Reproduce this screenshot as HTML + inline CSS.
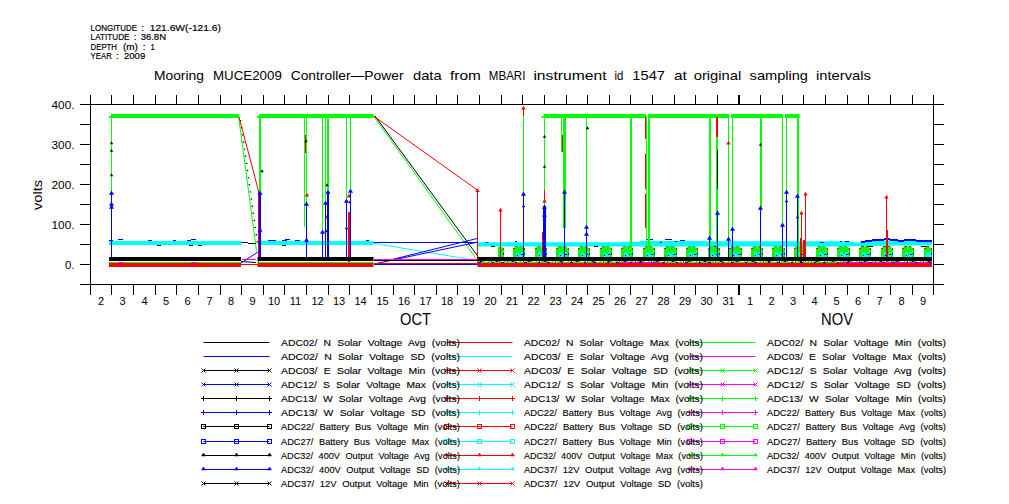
<!DOCTYPE html>
<html><head><meta charset="utf-8"><style>html,body{margin:0;padding:0;background:#fff;overflow:hidden}svg{display:block}text{font-family:"Liberation Sans",sans-serif}.b{stroke:#000;stroke-width:0.12px}.h{stroke:#000;stroke-width:0.2px}</style></head>
<body><svg width="1009" height="504" viewBox="0 0 1009 504" font-family="Liberation Sans, sans-serif" fill="#000"><path d="M498 257V247H502L504 249V257Z" fill="#0f0"/>
<rect x="500" y="252" width="2" height="5" fill="#0ff"/>
<rect x="503" y="248" width="1" height="2" fill="#f00"/>
<rect x="503" y="253" width="1" height="2" fill="#00f"/>
<path d="M513 257V249L515 246.5H522L525 249V257Z" fill="#0f0"/>
<rect x="513" y="248" width="2" height="1" fill="#f00"/>
<rect x="515" y="246" width="3" height="1" fill="#f00"/>
<rect x="520" y="246" width="2" height="1" fill="#f00"/>
<rect x="516" y="252" width="7" height="5" fill="#0ff"/>
<rect x="519" y="252" width="2" height="2" fill="#0f0"/>
<rect x="517" y="255" width="1" height="1" fill="#000"/>
<rect x="521" y="254" width="2" height="1" fill="#000"/>
<rect x="524" y="248" width="1" height="2" fill="#f00"/>
<rect x="524" y="253" width="1" height="2" fill="#00f"/>
<path d="M535 257V249L537 246.5H544L547 249V257Z" fill="#0f0"/>
<rect x="535" y="248" width="2" height="1" fill="#f00"/>
<rect x="537" y="246" width="3" height="1" fill="#f00"/>
<rect x="542" y="246" width="2" height="1" fill="#f00"/>
<rect x="538" y="252" width="7" height="5" fill="#0ff"/>
<rect x="541" y="252" width="2" height="2" fill="#0f0"/>
<rect x="539" y="255" width="1" height="1" fill="#000"/>
<rect x="543" y="254" width="2" height="1" fill="#000"/>
<rect x="546" y="248" width="1" height="2" fill="#f00"/>
<rect x="546" y="253" width="1" height="2" fill="#00f"/>
<path d="M556 257V249L558 246.5H566L569 249V257Z" fill="#0f0"/>
<rect x="556" y="248" width="2" height="1" fill="#f00"/>
<rect x="558" y="246" width="3" height="1" fill="#f00"/>
<rect x="563" y="246" width="3" height="1" fill="#f00"/>
<rect x="559" y="252" width="8" height="5" fill="#0ff"/>
<rect x="562" y="252" width="2" height="2" fill="#0f0"/>
<rect x="560" y="255" width="1" height="1" fill="#000"/>
<rect x="565" y="254" width="2" height="1" fill="#000"/>
<rect x="568" y="248" width="1" height="2" fill="#f00"/>
<rect x="568" y="253" width="1" height="2" fill="#00f"/>
<path d="M578 257V249L580 246.5H587L590 249V257Z" fill="#0f0"/>
<rect x="578" y="248" width="2" height="1" fill="#f00"/>
<rect x="580" y="246" width="3" height="1" fill="#f00"/>
<rect x="585" y="246" width="2" height="1" fill="#f00"/>
<rect x="581" y="252" width="7" height="5" fill="#0ff"/>
<rect x="584" y="252" width="2" height="2" fill="#0f0"/>
<rect x="582" y="255" width="1" height="1" fill="#000"/>
<rect x="586" y="254" width="2" height="1" fill="#000"/>
<rect x="589" y="248" width="1" height="2" fill="#f00"/>
<rect x="589" y="253" width="1" height="2" fill="#00f"/>
<path d="M600 257V249L602 246.5H609L612 249V257Z" fill="#0f0"/>
<rect x="600" y="248" width="2" height="1" fill="#f00"/>
<rect x="602" y="246" width="3" height="1" fill="#f00"/>
<rect x="607" y="246" width="2" height="1" fill="#f00"/>
<rect x="603" y="252" width="7" height="5" fill="#0ff"/>
<rect x="606" y="252" width="2" height="2" fill="#0f0"/>
<rect x="604" y="255" width="1" height="1" fill="#000"/>
<rect x="608" y="254" width="2" height="1" fill="#000"/>
<rect x="611" y="248" width="1" height="2" fill="#f00"/>
<rect x="611" y="253" width="1" height="2" fill="#00f"/>
<path d="M621 257V249L623 246.5H630L633 249V257Z" fill="#0f0"/>
<rect x="621" y="248" width="2" height="1" fill="#f00"/>
<rect x="623" y="246" width="3" height="1" fill="#f00"/>
<rect x="628" y="246" width="2" height="1" fill="#f00"/>
<rect x="624" y="252" width="7" height="5" fill="#0ff"/>
<rect x="627" y="252" width="2" height="2" fill="#0f0"/>
<rect x="625" y="255" width="1" height="1" fill="#000"/>
<rect x="629" y="254" width="2" height="1" fill="#000"/>
<rect x="632" y="248" width="1" height="2" fill="#f00"/>
<rect x="632" y="253" width="1" height="2" fill="#00f"/>
<path d="M643 257V249L645 246.5H652L655 249V257Z" fill="#0f0"/>
<rect x="643" y="248" width="2" height="1" fill="#f00"/>
<rect x="645" y="246" width="3" height="1" fill="#f00"/>
<rect x="650" y="246" width="2" height="1" fill="#f00"/>
<rect x="646" y="252" width="7" height="5" fill="#0ff"/>
<rect x="649" y="252" width="2" height="2" fill="#0f0"/>
<rect x="647" y="255" width="1" height="1" fill="#000"/>
<rect x="651" y="254" width="2" height="1" fill="#000"/>
<rect x="654" y="248" width="1" height="2" fill="#f00"/>
<rect x="654" y="253" width="1" height="2" fill="#00f"/>
<path d="M664 257V249L666 246.5H674L677 249V257Z" fill="#0f0"/>
<rect x="664" y="248" width="2" height="1" fill="#f00"/>
<rect x="666" y="246" width="3" height="1" fill="#f00"/>
<rect x="671" y="246" width="3" height="1" fill="#f00"/>
<rect x="667" y="252" width="8" height="5" fill="#0ff"/>
<rect x="670" y="252" width="2" height="2" fill="#0f0"/>
<rect x="668" y="255" width="1" height="1" fill="#000"/>
<rect x="673" y="254" width="2" height="1" fill="#000"/>
<rect x="676" y="248" width="1" height="2" fill="#f00"/>
<rect x="676" y="253" width="1" height="2" fill="#00f"/>
<path d="M686 257V249L688 246.5H695L698 249V257Z" fill="#0f0"/>
<rect x="686" y="248" width="2" height="1" fill="#f00"/>
<rect x="688" y="246" width="3" height="1" fill="#f00"/>
<rect x="693" y="246" width="2" height="1" fill="#f00"/>
<rect x="689" y="252" width="7" height="5" fill="#0ff"/>
<rect x="692" y="252" width="2" height="2" fill="#0f0"/>
<rect x="690" y="255" width="1" height="1" fill="#000"/>
<rect x="694" y="254" width="2" height="1" fill="#000"/>
<rect x="697" y="248" width="1" height="2" fill="#f00"/>
<rect x="697" y="253" width="1" height="2" fill="#00f"/>
<path d="M708 257V249L710 246.5H717L720 249V257Z" fill="#0f0"/>
<rect x="708" y="248" width="2" height="1" fill="#f00"/>
<rect x="710" y="246" width="3" height="1" fill="#f00"/>
<rect x="715" y="246" width="2" height="1" fill="#f00"/>
<rect x="711" y="252" width="7" height="5" fill="#0ff"/>
<rect x="714" y="252" width="2" height="2" fill="#0f0"/>
<rect x="712" y="255" width="1" height="1" fill="#000"/>
<rect x="716" y="254" width="2" height="1" fill="#000"/>
<rect x="719" y="248" width="1" height="2" fill="#f00"/>
<rect x="719" y="253" width="1" height="2" fill="#00f"/>
<path d="M729 257V249L731 246.5H739L742 249V257Z" fill="#0f0"/>
<rect x="729" y="248" width="2" height="1" fill="#f00"/>
<rect x="731" y="246" width="3" height="1" fill="#f00"/>
<rect x="736" y="246" width="3" height="1" fill="#f00"/>
<rect x="732" y="252" width="8" height="5" fill="#0ff"/>
<rect x="735" y="252" width="2" height="2" fill="#0f0"/>
<rect x="733" y="255" width="1" height="1" fill="#000"/>
<rect x="738" y="254" width="2" height="1" fill="#000"/>
<rect x="741" y="248" width="1" height="2" fill="#f00"/>
<rect x="741" y="253" width="1" height="2" fill="#00f"/>
<path d="M751 257V249L753 246.5H760L763 249V257Z" fill="#0f0"/>
<rect x="751" y="248" width="2" height="1" fill="#f00"/>
<rect x="753" y="246" width="3" height="1" fill="#f00"/>
<rect x="758" y="246" width="2" height="1" fill="#f00"/>
<rect x="754" y="252" width="7" height="5" fill="#0ff"/>
<rect x="757" y="252" width="2" height="2" fill="#0f0"/>
<rect x="755" y="255" width="1" height="1" fill="#000"/>
<rect x="759" y="254" width="2" height="1" fill="#000"/>
<rect x="762" y="248" width="1" height="2" fill="#f00"/>
<rect x="762" y="253" width="1" height="2" fill="#00f"/>
<path d="M772 257V249L774 246.5H782L785 249V257Z" fill="#0f0"/>
<rect x="772" y="248" width="2" height="1" fill="#f00"/>
<rect x="774" y="246" width="3" height="1" fill="#f00"/>
<rect x="779" y="246" width="3" height="1" fill="#f00"/>
<rect x="775" y="252" width="8" height="5" fill="#0ff"/>
<rect x="778" y="252" width="2" height="2" fill="#0f0"/>
<rect x="776" y="255" width="1" height="1" fill="#000"/>
<rect x="781" y="254" width="2" height="1" fill="#000"/>
<rect x="784" y="248" width="1" height="2" fill="#f00"/>
<rect x="784" y="253" width="1" height="2" fill="#00f"/>
<path d="M794 257V249L796 246.5H803L806 249V257Z" fill="#0f0"/>
<rect x="794" y="248" width="2" height="1" fill="#f00"/>
<rect x="796" y="246" width="3" height="1" fill="#f00"/>
<rect x="801" y="246" width="2" height="1" fill="#f00"/>
<rect x="797" y="252" width="7" height="5" fill="#0ff"/>
<rect x="800" y="252" width="2" height="2" fill="#0f0"/>
<rect x="798" y="255" width="1" height="1" fill="#000"/>
<rect x="802" y="254" width="2" height="1" fill="#000"/>
<rect x="805" y="248" width="1" height="2" fill="#f00"/>
<rect x="805" y="253" width="1" height="2" fill="#00f"/>
<path d="M816 257V249L818 246.5H825L828 249V257Z" fill="#0f0"/>
<rect x="816" y="248" width="2" height="1" fill="#f00"/>
<rect x="818" y="246" width="3" height="1" fill="#f00"/>
<rect x="823" y="246" width="2" height="1" fill="#f00"/>
<rect x="819" y="252" width="7" height="5" fill="#0ff"/>
<rect x="822" y="252" width="2" height="2" fill="#0f0"/>
<rect x="820" y="255" width="1" height="1" fill="#000"/>
<rect x="824" y="254" width="2" height="1" fill="#000"/>
<rect x="827" y="248" width="1" height="2" fill="#f00"/>
<rect x="827" y="253" width="1" height="2" fill="#00f"/>
<path d="M837 257V249L839 246.5H847L850 249V257Z" fill="#0f0"/>
<rect x="837" y="248" width="2" height="1" fill="#f00"/>
<rect x="839" y="246" width="3" height="1" fill="#f00"/>
<rect x="844" y="246" width="3" height="1" fill="#f00"/>
<rect x="840" y="252" width="8" height="5" fill="#0ff"/>
<rect x="843" y="252" width="2" height="2" fill="#0f0"/>
<rect x="841" y="255" width="1" height="1" fill="#000"/>
<rect x="846" y="254" width="2" height="1" fill="#000"/>
<rect x="849" y="248" width="1" height="2" fill="#f00"/>
<rect x="849" y="253" width="1" height="2" fill="#00f"/>
<path d="M859 257V249L861 246.5H868L871 249V257Z" fill="#0f0"/>
<rect x="859" y="248" width="2" height="1" fill="#f00"/>
<rect x="861" y="246" width="3" height="1" fill="#f00"/>
<rect x="866" y="246" width="2" height="1" fill="#f00"/>
<rect x="862" y="252" width="7" height="5" fill="#0ff"/>
<rect x="865" y="252" width="2" height="2" fill="#0f0"/>
<rect x="863" y="255" width="1" height="1" fill="#000"/>
<rect x="867" y="254" width="2" height="1" fill="#000"/>
<rect x="870" y="248" width="1" height="2" fill="#f00"/>
<rect x="870" y="253" width="1" height="2" fill="#00f"/>
<path d="M881 257V249L883 246.5H890L893 249V257Z" fill="#0f0"/>
<rect x="881" y="248" width="2" height="1" fill="#f00"/>
<rect x="883" y="246" width="3" height="1" fill="#f00"/>
<rect x="888" y="246" width="2" height="1" fill="#f00"/>
<rect x="884" y="252" width="7" height="5" fill="#0ff"/>
<rect x="887" y="252" width="2" height="2" fill="#0f0"/>
<rect x="885" y="255" width="1" height="1" fill="#000"/>
<rect x="889" y="254" width="2" height="1" fill="#000"/>
<rect x="892" y="248" width="1" height="2" fill="#f00"/>
<rect x="892" y="253" width="1" height="2" fill="#00f"/>
<path d="M902 257V249L904 246.5H911L914 249V257Z" fill="#0f0"/>
<rect x="902" y="248" width="2" height="1" fill="#f00"/>
<rect x="904" y="246" width="3" height="1" fill="#f00"/>
<rect x="909" y="246" width="2" height="1" fill="#f00"/>
<rect x="905" y="252" width="7" height="5" fill="#0ff"/>
<rect x="908" y="252" width="2" height="2" fill="#0f0"/>
<rect x="906" y="255" width="1" height="1" fill="#000"/>
<rect x="910" y="254" width="2" height="1" fill="#000"/>
<rect x="913" y="248" width="1" height="2" fill="#f00"/>
<rect x="913" y="253" width="1" height="2" fill="#00f"/>
<path d="M924 257V249L926 246.5H929L932 249V257Z" fill="#0f0"/>
<rect x="924" y="248" width="2" height="1" fill="#f00"/>
<rect x="926" y="246" width="3" height="1" fill="#f00"/>
<rect x="931" y="246" width="-2" height="1" fill="#f00"/>
<rect x="926" y="252" width="5" height="5" fill="#0ff"/>
<rect x="931" y="248" width="1" height="2" fill="#f00"/>
<rect x="931" y="253" width="1" height="2" fill="#00f"/>
<rect x="109" y="241" width="132" height="4" fill="#0ff"/>
<rect x="258" y="241" width="115.5" height="4" fill="#0ff"/>
<path d="M477.5 242.3H622V241.7H640V241H700V241.3H850V241.5L855 242.5H860V241.5H870V240.5H932V245.2L900 245.4L850 246.3V246.6H477.5Z" fill="#0ff"/>
<rect x="109" y="240" width="4" height="1" fill="#00f"/>
<rect x="118" y="239" width="5" height="1" fill="#00f"/>
<rect x="148" y="240" width="4" height="1" fill="#00f"/>
<rect x="173" y="240" width="3" height="1" fill="#00f"/>
<rect x="187" y="240" width="4" height="1" fill="#00f"/>
<rect x="191" y="239" width="5" height="1" fill="#00f"/>
<rect x="268" y="240" width="8" height="1" fill="#00f"/>
<rect x="282" y="240" width="5" height="1" fill="#00f"/>
<rect x="285" y="239" width="5" height="1" fill="#00f"/>
<rect x="295" y="240" width="5" height="1" fill="#00f"/>
<rect x="366" y="240" width="3" height="1" fill="#00f"/>
<rect x="486" y="242" width="2" height="1" fill="#00f"/>
<rect x="515" y="241" width="2" height="1" fill="#00f"/>
<rect x="647" y="239" width="6" height="1" fill="#00f"/>
<rect x="660" y="242" width="2" height="1" fill="#00f"/>
<rect x="665" y="239" width="7" height="1" fill="#00f"/>
<rect x="675" y="241" width="2" height="1" fill="#00f"/>
<rect x="680" y="240" width="5" height="1" fill="#00f"/>
<rect x="820" y="242" width="4" height="1" fill="#00f"/>
<rect x="840" y="241" width="2" height="1" fill="#00f"/>
<rect x="845" y="241" width="4" height="1" fill="#00f"/>
<rect x="861" y="241" width="4" height="2" fill="#00f"/>
<rect x="865" y="240" width="7" height="2" fill="#00f"/>
<rect x="872" y="239" width="12" height="2" fill="#00f"/>
<rect x="884" y="238" width="6" height="2" fill="#00f"/>
<rect x="890" y="239" width="8" height="2" fill="#00f"/>
<rect x="904" y="239" width="12" height="2" fill="#00f"/>
<rect x="925" y="240" width="7" height="2" fill="#00f"/>
<rect x="898" y="240" width="6" height="2" fill="#00f"/>
<rect x="916" y="240" width="9" height="2" fill="#00f"/>
<rect x="157" y="245" width="4" height="1" fill="#000"/>
<rect x="189" y="245" width="4" height="1" fill="#000"/>
<rect x="198" y="245" width="4" height="1" fill="#000"/>
<rect x="282" y="245" width="4" height="1" fill="#000"/>
<rect x="491" y="246" width="4" height="1" fill="#000"/>
<rect x="594" y="246" width="4" height="1" fill="#000"/>
<rect x="714" y="246" width="3" height="1" fill="#000"/>
<rect x="868" y="246" width="5" height="1" fill="#000"/>
<rect x="921" y="246" width="5" height="1" fill="#000"/>
<rect x="111" y="114" width="128" height="4" fill="#0f0"/>
<rect x="259" y="114" width="114.5" height="4" fill="#0f0"/>
<rect x="543.5" y="114" width="102.5" height="4" fill="#0f0"/>
<rect x="648" y="114" width="81" height="4" fill="#0f0"/>
<rect x="731" y="114" width="52" height="4" fill="#0f0"/>
<rect x="785" y="114" width="14.7" height="4" fill="#0f0"/>
<rect x="109" y="116" width="2" height="2" fill="#0f0"/>
<rect x="257" y="116" width="2" height="2" fill="#0f0"/>
<rect x="541.5" y="116" width="2.0" height="2" fill="#0f0"/>
<rect x="111" y="116" width="1" height="76" fill="#0f0"/>
<rect x="259" y="116" width="2" height="76" fill="#0f0"/>
<rect x="304" y="116" width="1" height="111" fill="#0f0"/>
<rect x="306" y="116" width="1" height="111" fill="#0f0"/>
<rect x="322" y="116" width="1" height="115" fill="#0f0"/>
<rect x="325" y="116" width="1" height="129" fill="#0f0"/>
<rect x="327" y="116" width="2" height="74" fill="#0f0"/>
<rect x="346" y="116" width="1" height="84" fill="#0f0"/>
<rect x="350" y="116" width="1" height="74" fill="#0f0"/>
<rect x="523" y="116" width="1" height="77" fill="#0f0"/>
<rect x="544" y="116" width="1" height="146" fill="#0f0"/>
<rect x="561" y="116" width="1" height="36" fill="#0f0"/>
<rect x="563" y="116" width="3" height="112" fill="#0f0"/>
<rect x="586" y="116" width="1" height="110" fill="#0f0"/>
<rect x="630" y="116" width="2" height="146" fill="#0f0"/>
<rect x="646" y="116" width="1" height="130" fill="#0f0"/>
<rect x="648" y="116" width="2" height="132" fill="#0f0"/>
<rect x="709" y="116" width="2" height="146" fill="#0f0"/>
<rect x="716" y="116" width="2" height="137" fill="#0f0"/>
<rect x="728" y="116" width="1" height="146" fill="#0f0"/>
<rect x="732" y="116" width="1" height="124" fill="#0f0"/>
<rect x="760" y="116" width="2" height="91" fill="#0f0"/>
<rect x="782" y="116" width="1" height="108" fill="#0f0"/>
<rect x="786" y="116" width="1" height="75" fill="#0f0"/>
<rect x="797" y="116" width="2" height="142" fill="#0f0"/>
<path d="M238.5 116L256.5 251" stroke="#0f0" stroke-width="1" fill="none"/>
<path d="M240.5 120L258 247" stroke="#000" stroke-width="1.5" stroke-dasharray="1.2 6"/>
<path d="M373.5 116L476 258.5" stroke="#0f0" stroke-width="1" fill="none"/>
<path d="M375 116L478 256.5" stroke="#000" stroke-width="1" fill="none"/>
<path d="M239 117L258.5 191" stroke="#f00" stroke-width="1" fill="none"/>
<path d="M373.5 116L478 190.5" stroke="#f00" stroke-width="1" fill="none"/>
<rect x="258" y="191" width="1" height="74" fill="#f00"/>
<rect x="348" y="212" width="2" height="53" fill="#f00"/>
<rect x="305" y="135" width="1" height="18" fill="#f00"/>
<rect x="562" y="135" width="1" height="17" fill="#f00"/>
<rect x="645" y="117" width="1" height="22" fill="#f00"/>
<rect x="645" y="154" width="1" height="35" fill="#f00"/>
<rect x="645" y="194" width="1" height="34" fill="#f00"/>
<rect x="716" y="117" width="2" height="20" fill="#f00"/>
<rect x="477" y="190.5" width="1" height="74.5" fill="#f00"/>
<rect x="500" y="210" width="1" height="55" fill="#f00"/>
<rect x="523" y="108" width="1" height="8" fill="#f00"/>
<rect x="542" y="232" width="1" height="33" fill="#f00"/>
<rect x="544" y="190" width="1" height="10" fill="#f00"/>
<rect x="801" y="213" width="1" height="52" fill="#f00"/>
<rect x="805" y="194" width="1" height="71" fill="#f00"/>
<rect x="800" y="238" width="2" height="20" fill="#f00"/>
<rect x="803" y="240" width="2" height="18" fill="#f00"/>
<rect x="887" y="230" width="1" height="35" fill="#f00"/>
<rect x="886" y="197" width="1" height="68" fill="#f00"/>
<path d="M498.3 211.54L500.5 207.8L502.7 211.54Z" fill="#f00"/>
<path d="M521.3 109.54L523.5 105.8L525.7 109.54Z" fill="#f00"/>
<path d="M475.3 192.04L477.5 188.3L479.7 192.04Z" fill="#f00"/>
<path d="M803.3 195.54L805.5 191.8L807.7 195.54Z" fill="#f00"/>
<path d="M799.3 214.54L801.5 210.8L803.7 214.54Z" fill="#f00"/>
<path d="M884.3 198.54L886.5 194.8L888.7 198.54Z" fill="#f00"/>
<path d="M542.3 202.54L544.5 198.8L546.7 202.54Z" fill="#f00"/>
<path d="M304.8 196.54L307 192.8L309.2 196.54Z" fill="#f00"/>
<path d="M324.8 218.54L327 214.8L329.2 218.54Z" fill="#f00"/>
<path d="M346.8 197.54L349 193.8L351.2 197.54Z" fill="#f00"/>
<path d="M726.3 144.54L728.5 140.8L730.7 144.54Z" fill="#f00"/>
<rect x="717" y="150" width="1" height="39" fill="#000"/>
<path d="M109.8 144.19L111.5 141.3L113.2 144.19Z" fill="#000"/>
<path d="M109.8 151.69L111.5 148.8L113.2 151.69Z" fill="#000"/>
<path d="M109.8 176.19L111.5 173.3L113.2 176.19Z" fill="#000"/>
<path d="M260.3 172.19L262 169.3L263.7 172.19Z" fill="#000"/>
<path d="M304.3 142.19L306 139.3L307.7 142.19Z" fill="#000"/>
<path d="M325.3 186.19L327 183.3L328.7 186.19Z" fill="#000"/>
<path d="M324.3 232.19L326 229.3L327.7 232.19Z" fill="#000"/>
<path d="M344.8 229.19L346.5 226.3L348.2 229.19Z" fill="#000"/>
<path d="M348.3 203.19L350 200.3L351.7 203.19Z" fill="#000"/>
<path d="M542.8 137.69L544.5 134.8L546.2 137.69Z" fill="#000"/>
<path d="M542.8 167.79L544.5 164.9L546.2 167.79Z" fill="#000"/>
<path d="M521.8 207.19L523.5 204.3L525.2 207.19Z" fill="#000"/>
<path d="M585.8 129.19L587.5 126.3L589.2 129.19Z" fill="#000"/>
<path d="M758.8 145.79L760.5 142.9L762.2 145.79Z" fill="#000"/>
<path d="M784.8 202.19L786.5 199.3L788.2 202.19Z" fill="#000"/>
<path d="M795.8 218.19L797.5 215.3L799.2 218.19Z" fill="#000"/>
<rect x="111" y="192" width="1" height="66" fill="#00f"/>
<rect x="259" y="192" width="2" height="66" fill="#00f"/>
<rect x="306" y="203" width="1" height="55" fill="#00f"/>
<rect x="322" y="231" width="1" height="27" fill="#00f"/>
<rect x="325" y="202" width="1" height="56" fill="#00f"/>
<rect x="327" y="191" width="2" height="67" fill="#00f"/>
<rect x="346" y="200" width="1" height="58" fill="#00f"/>
<rect x="350" y="190" width="1" height="68" fill="#00f"/>
<rect x="523" y="193" width="1" height="65" fill="#00f"/>
<rect x="543" y="206" width="3" height="52" fill="#00f"/>
<rect x="564" y="191" width="1" height="67" fill="#00f"/>
<rect x="586" y="226" width="1" height="32" fill="#00f"/>
<rect x="709" y="237" width="1" height="21" fill="#00f"/>
<rect x="717" y="212" width="1" height="46" fill="#00f"/>
<rect x="728" y="238" width="1" height="20" fill="#00f"/>
<rect x="732" y="228" width="1" height="30" fill="#00f"/>
<rect x="760" y="207" width="1" height="51" fill="#00f"/>
<rect x="782" y="224" width="1" height="34" fill="#00f"/>
<rect x="786" y="191" width="1" height="67" fill="#00f"/>
<rect x="797" y="195" width="1" height="63" fill="#00f"/>
<path d="M109.0 194.75L111.5 190.5L114.0 194.75Z" fill="#00f"/>
<path d="M257.5 194.75L260.0 190.5L262.5 194.75Z" fill="#00f"/>
<path d="M304.0 205.75L306.5 201.5L309.0 205.75Z" fill="#00f"/>
<path d="M320.0 233.75L322.5 229.5L325.0 233.75Z" fill="#00f"/>
<path d="M323.0 204.75L325.5 200.5L328.0 204.75Z" fill="#00f"/>
<path d="M325.5 193.75L328.0 189.5L330.5 193.75Z" fill="#00f"/>
<path d="M344.0 202.75L346.5 198.5L349.0 202.75Z" fill="#00f"/>
<path d="M348.0 192.75L350.5 188.5L353.0 192.75Z" fill="#00f"/>
<path d="M521.0 195.75L523.5 191.5L526.0 195.75Z" fill="#00f"/>
<path d="M542.0 208.75L544.5 204.5L547.0 208.75Z" fill="#00f"/>
<path d="M562.0 193.75L564.5 189.5L567.0 193.75Z" fill="#00f"/>
<path d="M584.0 228.75L586.5 224.5L589.0 228.75Z" fill="#00f"/>
<path d="M707.0 239.75L709.5 235.5L712.0 239.75Z" fill="#00f"/>
<path d="M715.0 214.75L717.5 210.5L720.0 214.75Z" fill="#00f"/>
<path d="M726.0 240.75L728.5 236.5L731.0 240.75Z" fill="#00f"/>
<path d="M730.0 230.75L732.5 226.5L735.0 230.75Z" fill="#00f"/>
<path d="M758.0 209.75L760.5 205.5L763.0 209.75Z" fill="#00f"/>
<path d="M780.0 226.75L782.5 222.5L785.0 226.75Z" fill="#00f"/>
<path d="M784.0 193.75L786.5 189.5L789.0 193.75Z" fill="#00f"/>
<path d="M795.0 197.75L797.5 193.5L800.0 197.75Z" fill="#00f"/>
<path d="M109.0 205.75L111.5 201.5L114.0 205.75Z" fill="#00f"/>
<path d="M109.0 208.75L111.5 204.5L114.0 208.75Z" fill="#00f"/>
<path d="M542.0 216.75L544.5 212.5L547.0 216.75Z" fill="#00f"/>
<path d="M584.0 235.75L586.5 231.5L589.0 235.75Z" fill="#00f"/>
<path d="M304.0 241.75L306.5 237.5L309.0 241.75Z" fill="#00f"/>
<path d="M257.5 231.75L260 227.5L262.5 231.75Z" fill="#00f"/>
<path d="M241 242.5L248 242.5" stroke="#00f" stroke-width="1" fill="none"/>
<path d="M248 243.5L256 243.5" stroke="#000" stroke-width="1" fill="none"/>
<path d="M242 259.5L256 259.5" stroke="#f0f" stroke-width="1" fill="none"/>
<path d="M241 264.5L258 264.5" stroke="#f00" stroke-width="1" fill="none"/>
<path d="M241 261.5L256 262.5" stroke="#000" stroke-width="1" fill="none"/>
<path d="M241 263L258 252" stroke="#00f" stroke-width="1" fill="none"/>
<path d="M373.5 242.5L477 242.5" stroke="#00f" stroke-width="1" fill="none"/>
<path d="M373.5 243.3L469 259.2" stroke="#0ff" stroke-width="1" fill="none"/>
<path d="M390 260L478 238.3" stroke="#00f" stroke-width="1" fill="none"/>
<path d="M374 264L478 242" stroke="#00f" stroke-width="1" fill="none"/>
<path d="M374 260.5L477 260.5" stroke="#000" stroke-width="1" fill="none"/>
<path d="M374 259.5L477 259.5" stroke="#f0f" stroke-width="1" fill="none"/>
<path d="M374 263.5L477 263.5" stroke="#f00" stroke-width="1" fill="none"/>
<path d="M374 264.5L477 264.5" stroke="#00f" stroke-width="1" fill="none"/>
<rect x="109" y="257" width="132" height="4" fill="#000"/>
<rect x="257.5" y="257" width="116.0" height="4" fill="#000"/>
<rect x="477.5" y="257" width="454.5" height="4" fill="#000"/>
<rect x="109" y="262" width="132" height="1" fill="#0f0"/>
<rect x="257.5" y="262" width="116.0" height="1" fill="#0f0"/>
<rect x="477.5" y="262" width="454.5" height="1" fill="#0f0"/>
<rect x="118" y="262" width="5" height="1" fill="#f0f"/>
<rect x="191" y="262" width="5" height="1" fill="#f0f"/>
<rect x="840" y="262" width="92" height="1" fill="#f0f"/>
<rect x="620" y="262" width="40" height="1" fill="#f0f"/>
<path d="M477.5 261.5H932" stroke="#0f0" stroke-dasharray="7 3 2 4"/>
<path d="M480 261.5H932" stroke="#00f" stroke-dasharray="2 9 1 4"/>
<path d="M478 262.5H932" stroke="#00f" stroke-dasharray="3 11 2 7"/>
<rect x="109" y="263" width="132" height="4" fill="#f00"/>
<rect x="257.5" y="263" width="116.0" height="4" fill="#f00"/>
<rect x="477.5" y="263" width="454.5" height="4" fill="#f00"/>
<text class="h" x="90.6" y="31" font-size="9.8" textLength="46.4" lengthAdjust="spacingAndGlyphs">LONGITUDE</text>
<text class="h" x="141.2" y="31" font-size="9.8">:</text>
<text class="h" x="149.7" y="31" font-size="9.8" textLength="71.3" lengthAdjust="spacingAndGlyphs">121.6W(-121.6)</text>
<text class="h" x="90.6" y="40.3" font-size="9.8" textLength="39.0" lengthAdjust="spacingAndGlyphs">LATITUDE</text>
<text class="h" x="133.8" y="40.3" font-size="9.8">:</text>
<text class="h" x="140.7" y="40.3" font-size="9.8" textLength="25.3" lengthAdjust="spacingAndGlyphs">36.8N</text>
<text class="h" x="90.6" y="49.8" font-size="9.8" textLength="26.4" lengthAdjust="spacingAndGlyphs">DEPTH</text>
<text class="h" x="122.9" y="49.8" font-size="9.8" textLength="14.9" lengthAdjust="spacingAndGlyphs">(m)</text>
<text class="h" x="142.7" y="49.8" font-size="9.8">:</text>
<text class="h" x="150.5" y="49.8" font-size="9.8" textLength="4.4" lengthAdjust="spacingAndGlyphs">1</text>
<text class="h" x="90.6" y="59.3" font-size="9.8" textLength="21.2" lengthAdjust="spacingAndGlyphs">YEAR</text>
<text class="h" x="116" y="59.3" font-size="9.8">:</text>
<text class="h" x="124" y="59.3" font-size="9.8" textLength="21.2" lengthAdjust="spacingAndGlyphs">2009</text>
<text x="154" y="79.8" font-size="12.8" textLength="49.9" lengthAdjust="spacingAndGlyphs">Mooring</text>
<text x="213" y="79.8" font-size="12.8" textLength="68.8" lengthAdjust="spacingAndGlyphs">MUCE2009</text>
<text x="290.7" y="79.8" font-size="12.8" textLength="112.8" lengthAdjust="spacingAndGlyphs">Controller—Power</text>
<text x="413" y="79.8" font-size="12.8" textLength="28.6" lengthAdjust="spacingAndGlyphs">data</text>
<text x="450" y="79.8" font-size="12.8" textLength="30.8" lengthAdjust="spacingAndGlyphs">from</text>
<text x="488.8" y="79.8" font-size="12.8" textLength="36.6" lengthAdjust="spacingAndGlyphs">MBARI</text>
<text x="533.4" y="79.8" font-size="12.8" textLength="73.1" lengthAdjust="spacingAndGlyphs">instrument</text>
<text x="614.4" y="79.8" font-size="12.8" textLength="8.9" lengthAdjust="spacingAndGlyphs">id</text>
<text x="632.3" y="79.8" font-size="12.8" textLength="32.7" lengthAdjust="spacingAndGlyphs">1547</text>
<text x="673.9" y="79.8" font-size="12.8" textLength="12.9" lengthAdjust="spacingAndGlyphs">at</text>
<text x="693.7" y="79.8" font-size="12.8" textLength="47.6" lengthAdjust="spacingAndGlyphs">original</text>
<text x="749.6" y="79.8" font-size="12.8" textLength="58.4" lengthAdjust="spacingAndGlyphs">sampling</text>
<text x="816" y="79.8" font-size="12.8" textLength="54.9" lengthAdjust="spacingAndGlyphs">intervals</text>
<rect x="738" y="95" width="2" height="10" fill="#000"/><rect x="738" y="284" width="2" height="11" fill="#000"/>
<path d="M90.5 95V295M933.5 95V295M80 104.5H944M80 284.5H944M90.5 95V104.5M90.5 284.5V295M111.5 95V104.5M111.5 284.5V295M133.5 95V104.5M133.5 284.5V295M155.5 95V104.5M155.5 284.5V295M176.5 95V104.5M176.5 284.5V295M198.5 95V104.5M198.5 284.5V295M220.5 95V104.5M220.5 284.5V295M241.5 95V104.5M241.5 284.5V295M263.5 95V104.5M263.5 284.5V295M284.5 95V104.5M284.5 284.5V295M306.5 95V104.5M306.5 284.5V295M328.5 95V104.5M328.5 284.5V295M349.5 95V104.5M349.5 284.5V295M371.5 95V104.5M371.5 284.5V295M393.5 95V104.5M393.5 284.5V295M414.5 95V104.5M414.5 284.5V295M436.5 95V104.5M436.5 284.5V295M457.5 95V104.5M457.5 284.5V295M479.5 95V104.5M479.5 284.5V295M501.5 95V104.5M501.5 284.5V295M522.5 95V104.5M522.5 284.5V295M544.5 95V104.5M544.5 284.5V295M566.5 95V104.5M566.5 284.5V295M587.5 95V104.5M587.5 284.5V295M609.5 95V104.5M609.5 284.5V295M630.5 95V104.5M630.5 284.5V295M652.5 95V104.5M652.5 284.5V295M674.5 95V104.5M674.5 284.5V295M695.5 95V104.5M695.5 284.5V295M717.5 95V104.5M717.5 284.5V295M760.5 95V104.5M760.5 284.5V295M782.5 95V104.5M782.5 284.5V295M803.5 95V104.5M803.5 284.5V295M825.5 95V104.5M825.5 284.5V295M847.5 95V104.5M847.5 284.5V295M868.5 95V104.5M868.5 284.5V295M890.5 95V104.5M890.5 284.5V295M912.5 95V104.5M912.5 284.5V295M933.5 95V104.5M933.5 284.5V295M80 104.5H90.5M933.5 104.5H944M80 124.5H90.5M933.5 124.5H944M80 144.5H90.5M933.5 144.5H944M80 164.5H90.5M933.5 164.5H944M80 184.5H90.5M933.5 184.5H944M80 204.5H90.5M933.5 204.5H944M80 224.5H90.5M933.5 224.5H944M80 244.5H90.5M933.5 244.5H944M80 264.5H90.5M933.5 264.5H944M80 284.5H90.5M933.5 284.5H944" stroke="#000" stroke-width="1" fill="none"/>
<text x="51.5" y="108.9" font-size="11" textLength="23" lengthAdjust="spacingAndGlyphs">400.</text>
<text x="51.5" y="148.9" font-size="11" textLength="23" lengthAdjust="spacingAndGlyphs">300.</text>
<text x="51.5" y="188.9" font-size="11" textLength="23" lengthAdjust="spacingAndGlyphs">200.</text>
<text x="51.5" y="228.9" font-size="11" textLength="23" lengthAdjust="spacingAndGlyphs">100.</text>
<text x="65.0" y="268.9" font-size="11" textLength="9.5" lengthAdjust="spacingAndGlyphs">0.</text>
<text transform="translate(42,210) rotate(-90)" font-size="13.5" textLength="30" lengthAdjust="spacingAndGlyphs">volts</text>
<text x="101.0" y="305" font-size="11" text-anchor="middle">2</text>
<text x="122.5" y="305" font-size="11" text-anchor="middle">3</text>
<text x="144.5" y="305" font-size="11" text-anchor="middle">4</text>
<text x="166.0" y="305" font-size="11" text-anchor="middle">5</text>
<text x="187.5" y="305" font-size="11" text-anchor="middle">6</text>
<text x="209.5" y="305" font-size="11" text-anchor="middle">7</text>
<text x="231.0" y="305" font-size="11" text-anchor="middle">8</text>
<text x="252.5" y="305" font-size="11" text-anchor="middle">9</text>
<text x="274.0" y="305" font-size="11" text-anchor="middle">10</text>
<text x="295.5" y="305" font-size="11" text-anchor="middle">11</text>
<text x="317.5" y="305" font-size="11" text-anchor="middle">12</text>
<text x="339.0" y="305" font-size="11" text-anchor="middle">13</text>
<text x="360.5" y="305" font-size="11" text-anchor="middle">14</text>
<text x="382.5" y="305" font-size="11" text-anchor="middle">15</text>
<text x="404.0" y="305" font-size="11" text-anchor="middle">16</text>
<text x="425.5" y="305" font-size="11" text-anchor="middle">17</text>
<text x="447.0" y="305" font-size="11" text-anchor="middle">18</text>
<text x="468.5" y="305" font-size="11" text-anchor="middle">19</text>
<text x="490.5" y="305" font-size="11" text-anchor="middle">20</text>
<text x="512.0" y="305" font-size="11" text-anchor="middle">21</text>
<text x="533.5" y="305" font-size="11" text-anchor="middle">22</text>
<text x="555.5" y="305" font-size="11" text-anchor="middle">23</text>
<text x="577.0" y="305" font-size="11" text-anchor="middle">24</text>
<text x="598.5" y="305" font-size="11" text-anchor="middle">25</text>
<text x="620.0" y="305" font-size="11" text-anchor="middle">26</text>
<text x="641.5" y="305" font-size="11" text-anchor="middle">27</text>
<text x="663.5" y="305" font-size="11" text-anchor="middle">28</text>
<text x="685.0" y="305" font-size="11" text-anchor="middle">29</text>
<text x="706.5" y="305" font-size="11" text-anchor="middle">30</text>
<text x="728.5" y="305" font-size="11" text-anchor="middle">31</text>
<text x="750.0" y="305" font-size="11" text-anchor="middle">1</text>
<text x="771.5" y="305" font-size="11" text-anchor="middle">2</text>
<text x="793.0" y="305" font-size="11" text-anchor="middle">3</text>
<text x="814.5" y="305" font-size="11" text-anchor="middle">4</text>
<text x="836.5" y="305" font-size="11" text-anchor="middle">5</text>
<text x="858.0" y="305" font-size="11" text-anchor="middle">6</text>
<text x="879.5" y="305" font-size="11" text-anchor="middle">7</text>
<text x="901.5" y="305" font-size="11" text-anchor="middle">8</text>
<text x="923.0" y="305" font-size="11" text-anchor="middle">9</text>
<text x="400" y="324.6" font-size="17" textLength="31" lengthAdjust="spacingAndGlyphs">OCT</text>
<text x="821" y="324.6" font-size="17" textLength="32" lengthAdjust="spacingAndGlyphs">NOV</text>
<path d="M203.5 342.5H269.5" stroke="#000" stroke-width="1"/>
<path d="M203.5 356.5H269.5" stroke="#00f" stroke-width="1"/>
<path d="M203.5 370.5H269.5" stroke="#000" stroke-width="1"/>
<path d="M201.5 368.5L205.5 372.5M201.5 372.5L205.5 368.5" stroke="#000" stroke-width="1"/>
<path d="M234.5 368.5L238.5 372.5M234.5 372.5L238.5 368.5" stroke="#000" stroke-width="1"/>
<path d="M267.5 368.5L271.5 372.5M267.5 372.5L271.5 368.5" stroke="#000" stroke-width="1"/>
<path d="M203.5 384.5H269.5" stroke="#00f" stroke-width="1"/>
<path d="M201.5 382.5L205.5 386.5M201.5 386.5L205.5 382.5" stroke="#00f" stroke-width="1"/>
<path d="M234.5 382.5L238.5 386.5M234.5 386.5L238.5 382.5" stroke="#00f" stroke-width="1"/>
<path d="M267.5 382.5L271.5 386.5M267.5 386.5L271.5 382.5" stroke="#00f" stroke-width="1"/>
<path d="M203.5 398.5H269.5" stroke="#000" stroke-width="1"/>
<path d="M201.0 398.5H206.0M203.5 396.0V401.0" stroke="#000" stroke-width="1"/>
<path d="M234.0 398.5H239.0M236.5 396.0V401.0" stroke="#000" stroke-width="1"/>
<path d="M267.0 398.5H272.0M269.5 396.0V401.0" stroke="#000" stroke-width="1"/>
<path d="M203.5 412.5H269.5" stroke="#00f" stroke-width="1"/>
<path d="M201.0 412.5H206.0M203.5 410.0V415.0" stroke="#00f" stroke-width="1"/>
<path d="M234.0 412.5H239.0M236.5 410.0V415.0" stroke="#00f" stroke-width="1"/>
<path d="M267.0 412.5H272.0M269.5 410.0V415.0" stroke="#00f" stroke-width="1"/>
<path d="M203.5 426.5H269.5" stroke="#000" stroke-width="1"/>
<rect x="201.5" y="424.5" width="4" height="4" stroke="#000" stroke-width="1" fill="none"/>
<rect x="234.5" y="424.5" width="4" height="4" stroke="#000" stroke-width="1" fill="none"/>
<rect x="267.5" y="424.5" width="4" height="4" stroke="#000" stroke-width="1" fill="none"/>
<path d="M203.5 441.5H269.5" stroke="#00f" stroke-width="1"/>
<rect x="201.5" y="439.5" width="4" height="4" stroke="#00f" stroke-width="1" fill="none"/>
<rect x="234.5" y="439.5" width="4" height="4" stroke="#00f" stroke-width="1" fill="none"/>
<rect x="267.5" y="439.5" width="4" height="4" stroke="#00f" stroke-width="1" fill="none"/>
<path d="M203.5 455.5H269.5" stroke="#000" stroke-width="1"/>
<path d="M201.5 456.0L203.5 453.0L205.5 456.0Z" fill="#000" stroke="#000" stroke-width="0.5"/>
<path d="M234.5 456.0L236.5 453.0L238.5 456.0Z" fill="#000" stroke="#000" stroke-width="0.5"/>
<path d="M267.5 456.0L269.5 453.0L271.5 456.0Z" fill="#000" stroke="#000" stroke-width="0.5"/>
<path d="M203.5 469.5H269.5" stroke="#00f" stroke-width="1"/>
<path d="M201.5 470.0L203.5 467.0L205.5 470.0Z" fill="#00f" stroke="#00f" stroke-width="0.5"/>
<path d="M234.5 470.0L236.5 467.0L238.5 470.0Z" fill="#00f" stroke="#00f" stroke-width="0.5"/>
<path d="M267.5 470.0L269.5 467.0L271.5 470.0Z" fill="#00f" stroke="#00f" stroke-width="0.5"/>
<path d="M203.5 483.5H269.5" stroke="#000" stroke-width="1"/>
<path d="M201.5 481.5L205.5 485.5M201.5 485.5L205.5 481.5" stroke="#000" stroke-width="1"/>
<path d="M234.5 481.5L238.5 485.5M234.5 485.5L238.5 481.5" stroke="#000" stroke-width="1"/>
<path d="M267.5 481.5L271.5 485.5M267.5 485.5L271.5 481.5" stroke="#000" stroke-width="1"/>
<path d="M446.5 342.5H512.5" stroke="#f00" stroke-width="1"/>
<path d="M446.5 356.5H512.5" stroke="#0ff" stroke-width="1"/>
<path d="M446.5 370.5H512.5" stroke="#f00" stroke-width="1"/>
<path d="M444.5 368.5L448.5 372.5M444.5 372.5L448.5 368.5" stroke="#f00" stroke-width="1"/>
<path d="M477.5 368.5L481.5 372.5M477.5 372.5L481.5 368.5" stroke="#f00" stroke-width="1"/>
<path d="M510.5 368.5L514.5 372.5M510.5 372.5L514.5 368.5" stroke="#f00" stroke-width="1"/>
<path d="M446.5 384.5H512.5" stroke="#0ff" stroke-width="1"/>
<path d="M444.5 382.5L448.5 386.5M444.5 386.5L448.5 382.5" stroke="#0ff" stroke-width="1"/>
<path d="M477.5 382.5L481.5 386.5M477.5 386.5L481.5 382.5" stroke="#0ff" stroke-width="1"/>
<path d="M510.5 382.5L514.5 386.5M510.5 386.5L514.5 382.5" stroke="#0ff" stroke-width="1"/>
<path d="M446.5 398.5H512.5" stroke="#f00" stroke-width="1"/>
<path d="M444.0 398.5H449.0M446.5 396.0V401.0" stroke="#f00" stroke-width="1"/>
<path d="M477.0 398.5H482.0M479.5 396.0V401.0" stroke="#f00" stroke-width="1"/>
<path d="M510.0 398.5H515.0M512.5 396.0V401.0" stroke="#f00" stroke-width="1"/>
<path d="M446.5 412.5H512.5" stroke="#0ff" stroke-width="1"/>
<path d="M444.0 412.5H449.0M446.5 410.0V415.0" stroke="#0ff" stroke-width="1"/>
<path d="M477.0 412.5H482.0M479.5 410.0V415.0" stroke="#0ff" stroke-width="1"/>
<path d="M510.0 412.5H515.0M512.5 410.0V415.0" stroke="#0ff" stroke-width="1"/>
<path d="M446.5 426.5H512.5" stroke="#f00" stroke-width="1"/>
<rect x="444.5" y="424.5" width="4" height="4" stroke="#f00" stroke-width="1" fill="none"/>
<rect x="477.5" y="424.5" width="4" height="4" stroke="#f00" stroke-width="1" fill="none"/>
<rect x="510.5" y="424.5" width="4" height="4" stroke="#f00" stroke-width="1" fill="none"/>
<path d="M446.5 441.5H512.5" stroke="#0ff" stroke-width="1"/>
<rect x="444.5" y="439.5" width="4" height="4" stroke="#0ff" stroke-width="1" fill="none"/>
<rect x="477.5" y="439.5" width="4" height="4" stroke="#0ff" stroke-width="1" fill="none"/>
<rect x="510.5" y="439.5" width="4" height="4" stroke="#0ff" stroke-width="1" fill="none"/>
<path d="M446.5 455.5H512.5" stroke="#f00" stroke-width="1"/>
<path d="M444.5 456.0L446.5 453.0L448.5 456.0Z" fill="#f00" stroke="#f00" stroke-width="0.5"/>
<path d="M477.5 456.0L479.5 453.0L481.5 456.0Z" fill="#f00" stroke="#f00" stroke-width="0.5"/>
<path d="M510.5 456.0L512.5 453.0L514.5 456.0Z" fill="#f00" stroke="#f00" stroke-width="0.5"/>
<path d="M446.5 469.5H512.5" stroke="#0ff" stroke-width="1"/>
<path d="M444.5 470.0L446.5 467.0L448.5 470.0Z" fill="#0ff" stroke="#0ff" stroke-width="0.5"/>
<path d="M477.5 470.0L479.5 467.0L481.5 470.0Z" fill="#0ff" stroke="#0ff" stroke-width="0.5"/>
<path d="M510.5 470.0L512.5 467.0L514.5 470.0Z" fill="#0ff" stroke="#0ff" stroke-width="0.5"/>
<path d="M446.5 483.5H512.5" stroke="#f00" stroke-width="1"/>
<path d="M444.5 481.5L448.5 485.5M444.5 485.5L448.5 481.5" stroke="#f00" stroke-width="1"/>
<path d="M477.5 481.5L481.5 485.5M477.5 485.5L481.5 481.5" stroke="#f00" stroke-width="1"/>
<path d="M510.5 481.5L514.5 485.5M510.5 485.5L514.5 481.5" stroke="#f00" stroke-width="1"/>
<path d="M689.5 342.5H755.5" stroke="#0f0" stroke-width="1"/>
<path d="M689.5 356.5H755.5" stroke="#f0f" stroke-width="1"/>
<path d="M689.5 370.5H755.5" stroke="#0f0" stroke-width="1"/>
<path d="M687.5 368.5L691.5 372.5M687.5 372.5L691.5 368.5" stroke="#0f0" stroke-width="1"/>
<path d="M720.5 368.5L724.5 372.5M720.5 372.5L724.5 368.5" stroke="#0f0" stroke-width="1"/>
<path d="M753.5 368.5L757.5 372.5M753.5 372.5L757.5 368.5" stroke="#0f0" stroke-width="1"/>
<path d="M689.5 384.5H755.5" stroke="#f0f" stroke-width="1"/>
<path d="M687.5 382.5L691.5 386.5M687.5 386.5L691.5 382.5" stroke="#f0f" stroke-width="1"/>
<path d="M720.5 382.5L724.5 386.5M720.5 386.5L724.5 382.5" stroke="#f0f" stroke-width="1"/>
<path d="M753.5 382.5L757.5 386.5M753.5 386.5L757.5 382.5" stroke="#f0f" stroke-width="1"/>
<path d="M689.5 398.5H755.5" stroke="#0f0" stroke-width="1"/>
<path d="M687.0 398.5H692.0M689.5 396.0V401.0" stroke="#0f0" stroke-width="1"/>
<path d="M720.0 398.5H725.0M722.5 396.0V401.0" stroke="#0f0" stroke-width="1"/>
<path d="M753.0 398.5H758.0M755.5 396.0V401.0" stroke="#0f0" stroke-width="1"/>
<path d="M689.5 412.5H755.5" stroke="#f0f" stroke-width="1"/>
<path d="M687.0 412.5H692.0M689.5 410.0V415.0" stroke="#f0f" stroke-width="1"/>
<path d="M720.0 412.5H725.0M722.5 410.0V415.0" stroke="#f0f" stroke-width="1"/>
<path d="M753.0 412.5H758.0M755.5 410.0V415.0" stroke="#f0f" stroke-width="1"/>
<path d="M689.5 426.5H755.5" stroke="#0f0" stroke-width="1"/>
<rect x="687.5" y="424.5" width="4" height="4" stroke="#0f0" stroke-width="1" fill="none"/>
<rect x="720.5" y="424.5" width="4" height="4" stroke="#0f0" stroke-width="1" fill="none"/>
<rect x="753.5" y="424.5" width="4" height="4" stroke="#0f0" stroke-width="1" fill="none"/>
<path d="M689.5 441.5H755.5" stroke="#f0f" stroke-width="1"/>
<rect x="687.5" y="439.5" width="4" height="4" stroke="#f0f" stroke-width="1" fill="none"/>
<rect x="720.5" y="439.5" width="4" height="4" stroke="#f0f" stroke-width="1" fill="none"/>
<rect x="753.5" y="439.5" width="4" height="4" stroke="#f0f" stroke-width="1" fill="none"/>
<path d="M689.5 455.5H755.5" stroke="#0f0" stroke-width="1"/>
<path d="M687.5 456.0L689.5 453.0L691.5 456.0Z" fill="#0f0" stroke="#0f0" stroke-width="0.5"/>
<path d="M720.5 456.0L722.5 453.0L724.5 456.0Z" fill="#0f0" stroke="#0f0" stroke-width="0.5"/>
<path d="M753.5 456.0L755.5 453.0L757.5 456.0Z" fill="#0f0" stroke="#0f0" stroke-width="0.5"/>
<path d="M689.5 469.5H755.5" stroke="#f0f" stroke-width="1"/>
<path d="M687.5 470.0L689.5 467.0L691.5 470.0Z" fill="#f0f" stroke="#f0f" stroke-width="0.5"/>
<path d="M720.5 470.0L722.5 467.0L724.5 470.0Z" fill="#f0f" stroke="#f0f" stroke-width="0.5"/>
<path d="M753.5 470.0L755.5 467.0L757.5 470.0Z" fill="#f0f" stroke="#f0f" stroke-width="0.5"/>
<text x="281" y="345.9" class="b" font-size="9.3" word-spacing="3" textLength="179" lengthAdjust="spacingAndGlyphs">ADC02/ N Solar Voltage Avg (volts)</text>
<text x="281" y="359.9" class="b" font-size="9.3" word-spacing="3" textLength="179" lengthAdjust="spacingAndGlyphs">ADC02/ N Solar Voltage SD (volts)</text>
<text x="281" y="373.9" class="b" font-size="9.3" word-spacing="3" textLength="179" lengthAdjust="spacingAndGlyphs">ADC03/ E Solar Voltage Min (volts)</text>
<text x="281" y="387.9" class="b" font-size="9.3" word-spacing="3" textLength="179" lengthAdjust="spacingAndGlyphs">ADC12/ S Solar Voltage Max (volts)</text>
<text x="281" y="401.9" class="b" font-size="9.3" word-spacing="3" textLength="179" lengthAdjust="spacingAndGlyphs">ADC13/ W Solar Voltage Avg (volts)</text>
<text x="281" y="415.9" class="b" font-size="9.3" word-spacing="3" textLength="179" lengthAdjust="spacingAndGlyphs">ADC13/ W Solar Voltage SD (volts)</text>
<text x="281" y="429.9" class="b" font-size="9.3" word-spacing="3" textLength="179" lengthAdjust="spacingAndGlyphs">ADC22/ Battery Bus Voltage Min (volts)</text>
<text x="281" y="444.9" class="b" font-size="9.3" word-spacing="3" textLength="179" lengthAdjust="spacingAndGlyphs">ADC27/ Battery Bus Voltage Max (volts)</text>
<text x="281" y="458.9" class="b" font-size="9.3" word-spacing="3" textLength="179" lengthAdjust="spacingAndGlyphs">ADC32/ 400V Output Voltage Avg (volts)</text>
<text x="281" y="472.9" class="b" font-size="9.3" word-spacing="3" textLength="179" lengthAdjust="spacingAndGlyphs">ADC32/ 400V Output Voltage SD (volts)</text>
<text x="281" y="486.9" class="b" font-size="9.3" word-spacing="3" textLength="179" lengthAdjust="spacingAndGlyphs">ADC37/ 12V Output Voltage Min (volts)</text>
<text x="524" y="345.9" class="b" font-size="9.3" word-spacing="3" textLength="179" lengthAdjust="spacingAndGlyphs">ADC02/ N Solar Voltage Max (volts)</text>
<text x="524" y="359.9" class="b" font-size="9.3" word-spacing="3" textLength="179" lengthAdjust="spacingAndGlyphs">ADC03/ E Solar Voltage Avg (volts)</text>
<text x="524" y="373.9" class="b" font-size="9.3" word-spacing="3" textLength="179" lengthAdjust="spacingAndGlyphs">ADC03/ E Solar Voltage SD (volts)</text>
<text x="524" y="387.9" class="b" font-size="9.3" word-spacing="3" textLength="179" lengthAdjust="spacingAndGlyphs">ADC12/ S Solar Voltage Min (volts)</text>
<text x="524" y="401.9" class="b" font-size="9.3" word-spacing="3" textLength="179" lengthAdjust="spacingAndGlyphs">ADC13/ W Solar Voltage Max (volts)</text>
<text x="524" y="415.9" class="b" font-size="9.3" word-spacing="3" textLength="179" lengthAdjust="spacingAndGlyphs">ADC22/ Battery Bus Voltage Avg (volts)</text>
<text x="524" y="429.9" class="b" font-size="9.3" word-spacing="3" textLength="179" lengthAdjust="spacingAndGlyphs">ADC22/ Battery Bus Voltage SD (volts)</text>
<text x="524" y="444.9" class="b" font-size="9.3" word-spacing="3" textLength="179" lengthAdjust="spacingAndGlyphs">ADC27/ Battery Bus Voltage Min (volts)</text>
<text x="524" y="458.9" class="b" font-size="9.3" word-spacing="3" textLength="179" lengthAdjust="spacingAndGlyphs">ADC32/ 400V Output Voltage Max (volts)</text>
<text x="524" y="472.9" class="b" font-size="9.3" word-spacing="3" textLength="179" lengthAdjust="spacingAndGlyphs">ADC37/ 12V Output Voltage Avg (volts)</text>
<text x="524" y="486.9" class="b" font-size="9.3" word-spacing="3" textLength="179" lengthAdjust="spacingAndGlyphs">ADC37/ 12V Output Voltage SD (volts)</text>
<text x="767" y="345.9" class="b" font-size="9.3" word-spacing="3" textLength="179" lengthAdjust="spacingAndGlyphs">ADC02/ N Solar Voltage Min (volts)</text>
<text x="767" y="359.9" class="b" font-size="9.3" word-spacing="3" textLength="179" lengthAdjust="spacingAndGlyphs">ADC03/ E Solar Voltage Max (volts)</text>
<text x="767" y="373.9" class="b" font-size="9.3" word-spacing="3" textLength="179" lengthAdjust="spacingAndGlyphs">ADC12/ S Solar Voltage Avg (volts)</text>
<text x="767" y="387.9" class="b" font-size="9.3" word-spacing="3" textLength="179" lengthAdjust="spacingAndGlyphs">ADC12/ S Solar Voltage SD (volts)</text>
<text x="767" y="401.9" class="b" font-size="9.3" word-spacing="3" textLength="179" lengthAdjust="spacingAndGlyphs">ADC13/ W Solar Voltage Min (volts)</text>
<text x="767" y="415.9" class="b" font-size="9.3" word-spacing="3" textLength="179" lengthAdjust="spacingAndGlyphs">ADC22/ Battery Bus Voltage Max (volts)</text>
<text x="767" y="429.9" class="b" font-size="9.3" word-spacing="3" textLength="179" lengthAdjust="spacingAndGlyphs">ADC27/ Battery Bus Voltage Avg (volts)</text>
<text x="767" y="444.9" class="b" font-size="9.3" word-spacing="3" textLength="179" lengthAdjust="spacingAndGlyphs">ADC27/ Battery Bus Voltage SD (volts)</text>
<text x="767" y="458.9" class="b" font-size="9.3" word-spacing="3" textLength="179" lengthAdjust="spacingAndGlyphs">ADC32/ 400V Output Voltage Min (volts)</text>
<text x="767" y="472.9" class="b" font-size="9.3" word-spacing="3" textLength="179" lengthAdjust="spacingAndGlyphs">ADC37/ 12V Output Voltage Max (volts)</text></svg></body></html>
